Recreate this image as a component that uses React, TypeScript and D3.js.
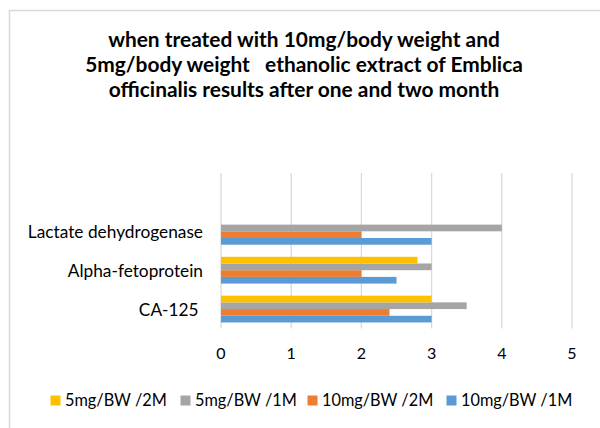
import { useRef, useLayoutEffect } from "react";
import * as d3 from "d3";

// categories bottom to top, the top one is a blank row in the sheet
const categories = ["CA-125 ", "Alpha-fetoprotein", "Lactate dehydrogenase", ""];

const seriesNames = ["10mg/BW /1M", "10mg/BW /2M", "5mg/BW /1M", "5mg/BW /2M"];
const seriesColors = ["#5B9BD5", "#ED7D31", "#A5A5A5", "#FFC000"];

const dose10Month1 = [3, 2.5, 3, null];
const dose10Month2 = [2.4, 2, 2, null];
const dose5Month1 = [3.5, 3, 4, null];
const dose5Month2 = [3, 2.8, null, null];

const xTicks = [0, 1, 2, 3, 4, 5];

const titleLines = [
  "when treated with 10mg/body weight and",
  "5mg/body weight   ethanolic extract of Emblica",
  "officinalis results after one and two month",
];

const FONT = "Lato, 'Open Sans', sans-serif";

export default function App() {
  const svgRef = useRef<SVGSVGElement | null>(null);
  const width = 600;
  const height = 428;

  useLayoutEffect(() => {
    if (!svgRef.current) return;
    const svg = d3.select(svgRef.current);
    svg.selectAll("*").remove();

    const values = [dose10Month1, dose10Month2, dose5Month1, dose5Month2];

    // chart border
    svg
      .append("rect")
      .attr("x", 9.5)
      .attr("y", 10.5)
      .attr("width", 620)
      .attr("height", 440)
      .attr("fill", "#fff")
      .attr("stroke", "#d9d9d9")
      .attr("stroke-width", 1.5);

    // title
    svg
      .append("text")
      .attr("text-anchor", "middle")
      .attr("font-family", FONT)
      .attr("font-weight", "bold")
      .attr("font-size", 20.9)
      .attr("fill", "#000")
      .selectAll("tspan")
      .data(titleLines)
      .enter()
      .append("tspan")
      .attr("x", 304)
      .attr("y", (_, i) => 46.5 + i * 25.3)
      .style("white-space", "pre")
      .text((d) => d);

    const x = d3.scaleLinear().domain([0, 5]).range([221, 572]);
    const y = d3
      .scaleBand<string>()
      .domain([...categories].reverse())
      .range([173, 328.5]);

    // series drawn top to bottom inside a band: last series on top
    const inner = d3
      .scaleBand<number>()
      .domain([3, 2, 1, 0])
      .range([0, y.bandwidth()])
      .paddingInner(0)
      .paddingOuter(0.9);

    // gridlines
    svg
      .append("g")
      .selectAll("line")
      .data(xTicks)
      .enter()
      .append("line")
      .attr("x1", (d) => x(d))
      .attr("x2", (d) => x(d))
      .attr("y1", 173)
      .attr("y2", 328.5)
      .attr("stroke", "#d9d9d9")
      .attr("stroke-width", 1.3);

    // bars
    const bars: { s: number; c: number; v: number }[] = [];
    values.forEach((arr, s) =>
      arr.forEach((v, c) => {
        if (v != null) bars.push({ s, c, v });
      })
    );
    svg
      .append("g")
      .selectAll("rect")
      .data(bars)
      .enter()
      .append("rect")
      .attr("x", x(0))
      .attr("y", (d) => (y(categories[d.c]) ?? 0) + (inner(d.s) ?? 0))
      .attr("width", (d) => x(d.v) - x(0))
      .attr("height", inner.bandwidth())
      .attr("fill", (d) => seriesColors[d.s]);

    // x tick labels
    svg
      .append("g")
      .selectAll("text")
      .data(xTicks)
      .enter()
      .append("text")
      .attr("x", (d) => x(d))
      .attr("y", 359)
      .attr("text-anchor", "middle")
      .attr("font-family", FONT)
      .attr("font-size", 16)
      .attr("fill", "#000")
      .text((d) => d);

    // category labels
    svg
      .append("g")
      .selectAll("text")
      .data(categories.filter((c) => c !== ""))
      .enter()
      .append("text")
      .attr("x", 203)
      .attr("y", (d) => (y(d) ?? 0) + y.bandwidth() / 2 + 7)
      .attr("text-anchor", "end")
      .attr("font-family", FONT)
      .attr("font-size", 17.3)
      .attr("fill", "#000")
      .style("white-space", "pre")
      .text((d) => d);

    // legend, reversed order like Excel
    const legendX = [50.5, 180.5, 307.5, 446.5];
    const legendOrder = [3, 2, 1, 0];
    const lg = svg
      .append("g")
      .selectAll("g")
      .data(legendOrder)
      .enter()
      .append("g")
      .attr("transform", (_, i) => `translate(${legendX[i]}, 400.5)`);
    lg.append("rect")
      .attr("x", 0)
      .attr("y", -5)
      .attr("width", 10)
      .attr("height", 10)
      .attr("fill", (d) => seriesColors[d]);
    lg.append("text")
      .attr("x", 14.5)
      .attr("y", 5.8)
      .attr("font-family", FONT)
      .attr("font-size", 16.3)
      .attr("fill", "#000")
      .text((d) => seriesNames[d]);
  }, []);

  return (
    <svg
      ref={svgRef}
      width={width}
      height={height}
      style={{ position: "absolute", left: 0, top: 0, display: "block" }}
    />
  );
}
